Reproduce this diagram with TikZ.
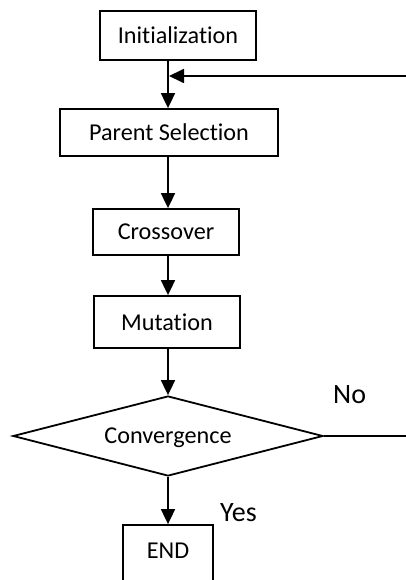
\documentclass[tikz,border=0pt]{standalone}
\usepackage{fontspec}
\setmainfont{Carlito}[Ligatures={NoCommon}]
\usetikzlibrary{shapes.geometric,arrows.meta}
\begin{document}
\begin{tikzpicture}[x=1pt,y=-1pt,
  box/.style={draw,line width=1.8pt,rectangle,inner sep=0pt,font=\fontsize{24.2}{28}\selectfont,text depth=0pt},
  dec/.style={draw,line width=1.8pt,diamond,inner sep=0pt,aspect=3.875,font=\fontsize{24.2}{28}\selectfont,text depth=0pt},
  lbl/.style={inner sep=0pt,anchor=base west,font=\fontsize{28}{32}\selectfont},
  arr/.style={line width=1.8pt,-{Triangle[length=15pt,width=14pt]}},
  ln/.style={line width=1.8pt}]
\useasboundingbox (0,0) rectangle (406,580);
\clip (0,0) rectangle (406,580);
\coordinate (spine) at (168,0);
\node[box,minimum width=156pt,minimum height=49pt] (init) at (178,35.5) {Initialization};
\node[box,minimum width=218pt,minimum height=47pt] (ps) at (169,132.5) {Parent Selection};
\node[box,minimum width=146pt,minimum height=46pt] (co) at (166,232) {Crossover};
\node[box,minimum width=146pt,minimum height=52pt] (mu) at (167,322) {Mutation};
\node[dec,minimum width=310pt,minimum height=80pt] (cv) at (168,436) {Convergence};
\node[box,minimum width=90pt,minimum height=62pt,text depth=10pt] (end) at (168,556) {END};
\node[lbl] (no) at (333,403) {No};
\node[lbl] (yes) at (220,521) {Yes};
\coordinate (fbR) at (406,76);
\coordinate (fbL) at (169,76);
\coordinate (noR) at (406,436);
\draw[arr] (init.south -| spine) -- (ps.north -| spine);
\draw[arr] (fbR) -- (fbL);
\draw[arr] (ps.south -| spine) -- (co.north -| spine);
\draw[arr] (co.south -| spine) -- (mu.north -| spine);
\draw[arr] (mu.south -| spine) -- (cv.north);
\draw[arr] (cv.south) -- (end.north);
\draw[ln] (cv.east) -- (noR);
\end{tikzpicture}
\end{document}
